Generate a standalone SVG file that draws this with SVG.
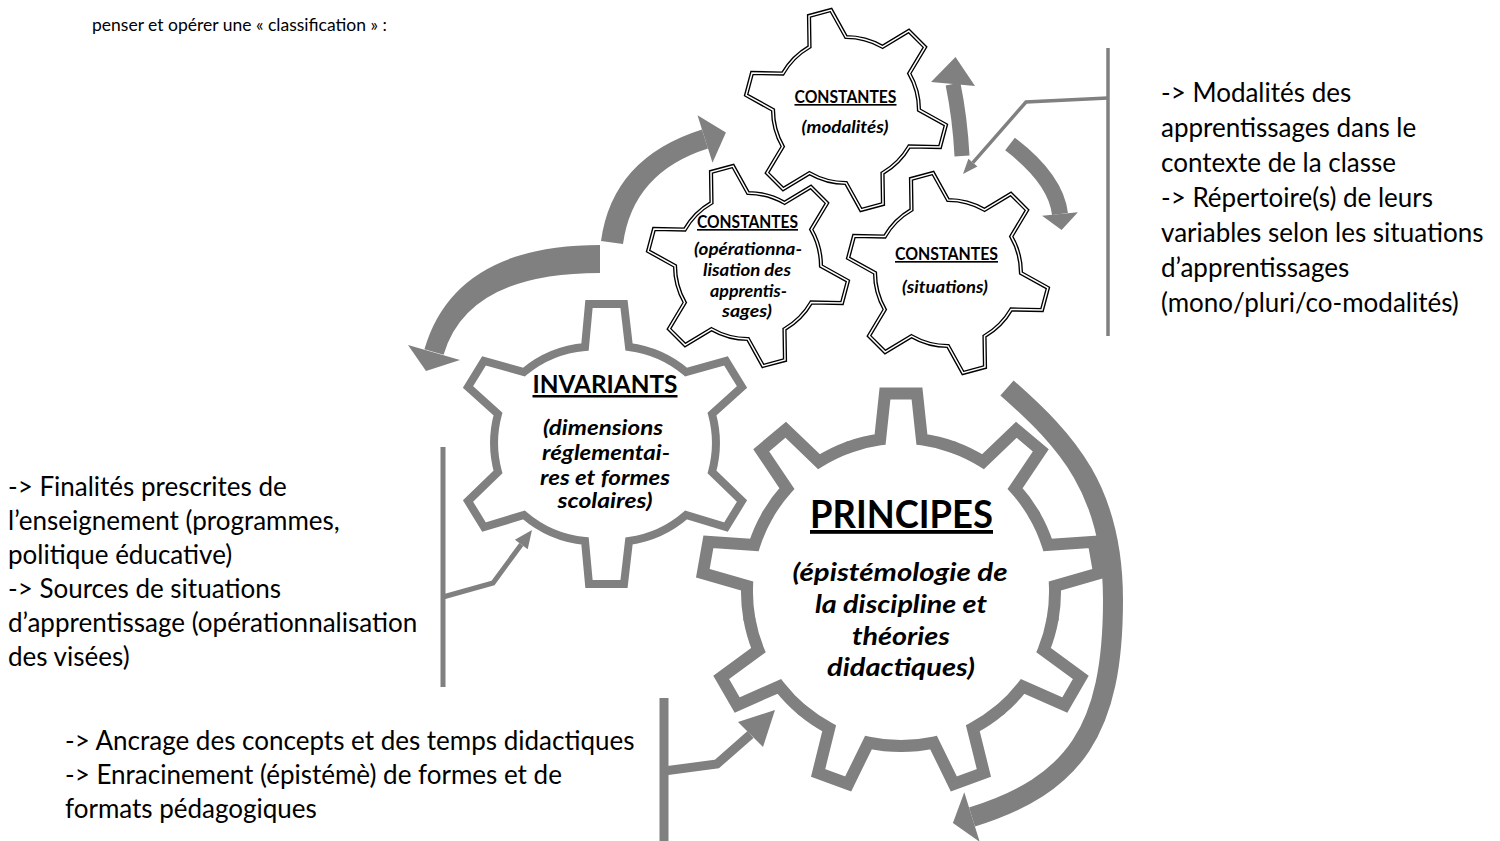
<svg xmlns="http://www.w3.org/2000/svg" xmlns:xlink="http://www.w3.org/1999/xlink" width="1500" height="841" viewBox="0 0 1500 841">
<defs>
<style>
.t{font-family:Lato,'Open Sans','Liberation Sans',sans-serif;fill:#000}
.body{font-size:26px}
.gb{font-weight:bold}
.gi{font-weight:bold;font-style:italic}
.ul{text-decoration:underline}
.c{text-anchor:middle}
.dblo{fill:#fff;stroke:#000;stroke-width:4.2;stroke-linejoin:miter}
.dbli{fill:none;stroke:#fff;stroke-width:1.5;stroke-linejoin:miter}
.gline{fill:none;stroke:#808080;stroke-linejoin:miter;stroke-linecap:round}
.arw{fill:#808080;stroke:none}
.arwl{fill:none;stroke:#808080;stroke-linecap:butt}
.brk{fill:none;stroke:#808080;stroke-linejoin:miter}
</style>
<path id="gs" d="M -18.9 -70.5 L -11.4 -100.4 L 11.4 -100.4 L 18.9 -70.5 A 73 73 0 0 1 51.6 -51.6 L 81.2 -60.1 L 92.6 -40.3 L 70.5 -18.9 A 73 73 0 0 1 70.5 18.9 L 92.6 40.3 L 81.2 60.1 L 51.6 51.6 A 73 73 0 0 1 18.9 70.5 L 11.4 100.4 L -11.4 100.4 L -18.9 70.5 A 73 73 0 0 1 -51.6 51.6 L -81.2 60.1 L -92.6 40.3 L -70.5 18.9 A 73 73 0 0 1 -70.5 -18.9 L -92.6 -40.3 L -81.2 -60.1 L -51.6 -51.6 A 73 73 0 0 1 -18.9 -70.5 Z"/>
<path id="pt" d="M -52.7 -144.7 A 154 154 0 0 1 -20.9 -152.6 L -16 -198.4 L 16 -198.4 L 20.9 -152.6 A 154 154 0 0 1 52.7 -144.7"/>
</defs>
<rect width="1500" height="841" fill="#fff"/>

<g id="connectors">
  <path class="arw" d="M 601 241 Q 612.3 157.8 702 129.5 L 708 148.5 Q 632.8 172.2 623 244 Z"/>
  <path class="arw" d="M 697.5 115.3 L 725.9 132.4 L 712.5 162.8 Z"/>
  <path class="arw" d="M 600 245 Q 454.8 245 424.4 349.2 L 443.6 354.8 Q 467.5 273 600 273 Z"/>
  <path class="arw" d="M 408 345 L 460 360 L 426 371 Z"/>
  <path class="arwl" stroke-width="15" d="M 962 156 Q 960 118 953 84"/>
  <path class="arw" d="M 931 82 L 955.5 57 L 975 86 Z"/>
  <path class="arwl" stroke-width="16" d="M 1010 144 Q 1056 179 1060 214"/>
  <path class="arw" d="M 1042.1 215.8 L 1061.6 229.9 L 1077.9 212.2 Z"/>
  <path class="arwl" stroke-width="20" d="M 1007 388 C 1067 441 1113 490 1113 600 C 1113 730 1075 785 972 817"/>
  <path class="arw" d="M 964.3 792.2 L 952.9 822.9 L 979.7 841.8 Z"/>
  <path class="brk" stroke-width="3.5" d="M 1108 48 V 336"/>
  <path class="brk" stroke-width="3.5" d="M 1108 98 L 1026 102 L 972.9 162.7"/>
  <path class="arw" d="M 963 174 L 977.4 166.6 L 968.4 158.8 Z"/>
  <path class="brk" stroke-width="5" d="M 443 447 V 687"/>
  <path class="brk" stroke-width="5" d="M 443 597 L 493 583 L 521.3 544.5"/>
  <path class="arw" d="M 532 530 L 527.7 549.2 L 514.9 539.8 Z"/>
  <path class="brk" stroke-width="9" d="M 664 698 V 841"/>
  <path class="brk" stroke-width="9" d="M 664 771 L 717 764 L 750.5 734.5"/>
  <path class="arw" d="M 775 710 L 738 722 L 763 747 Z"/>
</g>

<g id="gear-principes">
  <g class="gline" stroke-width="12" transform="translate(901 592)">
    <use xlink:href="#pt"/>
    <use xlink:href="#pt" transform="rotate(40)"/>
    <use xlink:href="#pt" transform="rotate(80)"/>
    <use xlink:href="#pt" transform="rotate(120)"/>
    <use xlink:href="#pt" transform="rotate(160)"/>
    <use xlink:href="#pt" transform="rotate(200)"/>
    <use xlink:href="#pt" transform="rotate(240)"/>
    <use xlink:href="#pt" transform="rotate(280)"/>
    <use xlink:href="#pt" transform="rotate(320)"/>
  </g>
  <text class="t gb ul c" x="901.5" y="528" font-size="38" textLength="183" lengthAdjust="spacingAndGlyphs">PRINCIPES</text>
  <text class="t gi c" x="900" y="581" font-size="25" textLength="215" lengthAdjust="spacingAndGlyphs">(épistémologie de</text>
  <text class="t gi c" x="901" y="613" font-size="25" textLength="172" lengthAdjust="spacingAndGlyphs">la discipline et</text>
  <text class="t gi c" x="901" y="645" font-size="25" textLength="98" lengthAdjust="spacingAndGlyphs">théories</text>
  <text class="t gi c" x="901" y="676" font-size="25" textLength="148" lengthAdjust="spacingAndGlyphs">didactiques)</text>
</g>

<g id="gear-invariants">
  <path class="gline" stroke-width="8" d="M 585 347 L 589 304 L 624 304 L 629 347 A 110 110 0 0 1 686 372 L 726 361 L 742 387 L 712 414 A 110 110 0 0 1 712 472 L 742 501 L 726 527 L 686 515 A 110 110 0 0 1 629 541 L 624 584 L 589 584 L 585 541 A 110 110 0 0 1 524 515 L 484 527 L 468 501 L 498 472 A 110 110 0 0 1 498 414 L 468 387 L 484 361 L 524 372 A 110 110 0 0 1 585 347 Z"/>
  <text class="t gb ul c" x="605" y="393" font-size="25" textLength="145" lengthAdjust="spacingAndGlyphs">INVARIANTS</text>
  <text class="t gi c" x="603" y="435" font-size="21.5" textLength="120" lengthAdjust="spacingAndGlyphs">(dimensions</text>
  <text class="t gi c" x="606" y="460" font-size="21.5" textLength="128" lengthAdjust="spacingAndGlyphs">réglementai-</text>
  <text class="t gi c" x="605" y="485" font-size="21.5" textLength="130" lengthAdjust="spacingAndGlyphs">res et formes</text>
  <text class="t gi c" x="605" y="508" font-size="21.5" textLength="95" lengthAdjust="spacingAndGlyphs">scolaires)</text>
</g>

<g id="gear-modalites">
  <use xlink:href="#gs" class="dblo" transform="translate(846 110) rotate(-15)"/>
  <use xlink:href="#gs" class="dbli" transform="translate(846 110) rotate(-15)"/>
  <text class="t gb ul c" x="845.5" y="103" font-size="16.5" textLength="102" lengthAdjust="spacingAndGlyphs">CONSTANTES</text>
  <text class="t gi c" x="845" y="133" font-size="16.5" textLength="87" lengthAdjust="spacingAndGlyphs">(modalités)</text>
</g>

<g id="gear-operationnalisation">
  <use xlink:href="#gs" class="dblo" transform="translate(748 266) rotate(-15)"/>
  <use xlink:href="#gs" class="dbli" transform="translate(748 266) rotate(-15)"/>
  <text class="t gb ul c" x="747.5" y="228" font-size="16.5" textLength="101" lengthAdjust="spacingAndGlyphs">CONSTANTES</text>
  <text class="t gi c" x="748" y="255" font-size="16.5" textLength="108" lengthAdjust="spacingAndGlyphs">(opérationna-</text>
  <text class="t gi c" x="747" y="276" font-size="16.5" textLength="88" lengthAdjust="spacingAndGlyphs">lisation des</text>
  <text class="t gi c" x="748.5" y="297" font-size="16.5" textLength="77" lengthAdjust="spacingAndGlyphs">apprentis-</text>
  <text class="t gi c" x="747" y="317" font-size="16.5" textLength="50" lengthAdjust="spacingAndGlyphs">sages)</text>
</g>

<g id="gear-situations">
  <use xlink:href="#gs" class="dblo" transform="translate(948 273) rotate(-15)"/>
  <use xlink:href="#gs" class="dbli" transform="translate(948 273) rotate(-15)"/>
  <text class="t gb ul c" x="946.5" y="260" font-size="16.5" textLength="103" lengthAdjust="spacingAndGlyphs">CONSTANTES</text>
  <text class="t gi c" x="945" y="293" font-size="16.5" textLength="86" lengthAdjust="spacingAndGlyphs">(situations)</text>
</g>

<g id="intro">
  <text class="t" x="92" y="31" font-size="17.5">penser et opérer une « classification » :</text>
</g>

<g id="note-constantes">
  <text class="t body" x="1161" y="102">-&gt; Modalités des</text>
  <text class="t body" x="1161" y="137">apprentissages dans le</text>
  <text class="t body" x="1161" y="172">contexte de la classe</text>
  <text class="t body" x="1161" y="207">-&gt; Répertoire(s) de leurs</text>
  <text class="t body" x="1161" y="242">variables selon les situations</text>
  <text class="t body" x="1161" y="277">d’apprentissages</text>
  <text class="t body" x="1161" y="312">(mono/pluri/co-modalités)</text>
</g>

<g id="note-invariants">
  <text class="t body" x="8" y="496">-&gt; Finalités prescrites de</text>
  <text class="t body" x="8" y="530">l’enseignement (programmes,</text>
  <text class="t body" x="8" y="564">politique éducative)</text>
  <text class="t body" x="8" y="598">-&gt; Sources de situations</text>
  <text class="t body" x="8" y="632">d’apprentissage (opérationnalisation</text>
  <text class="t body" x="8" y="666">des visées)</text>
</g>

<g id="note-principes">
  <text class="t body" x="65" y="750">-&gt; Ancrage des concepts et des temps didactiques</text>
  <text class="t body" x="65" y="784">-&gt; Enracinement (épistémè) de formes et de</text>
  <text class="t body" x="65" y="818">formats pédagogiques</text>
</g>
</svg>
